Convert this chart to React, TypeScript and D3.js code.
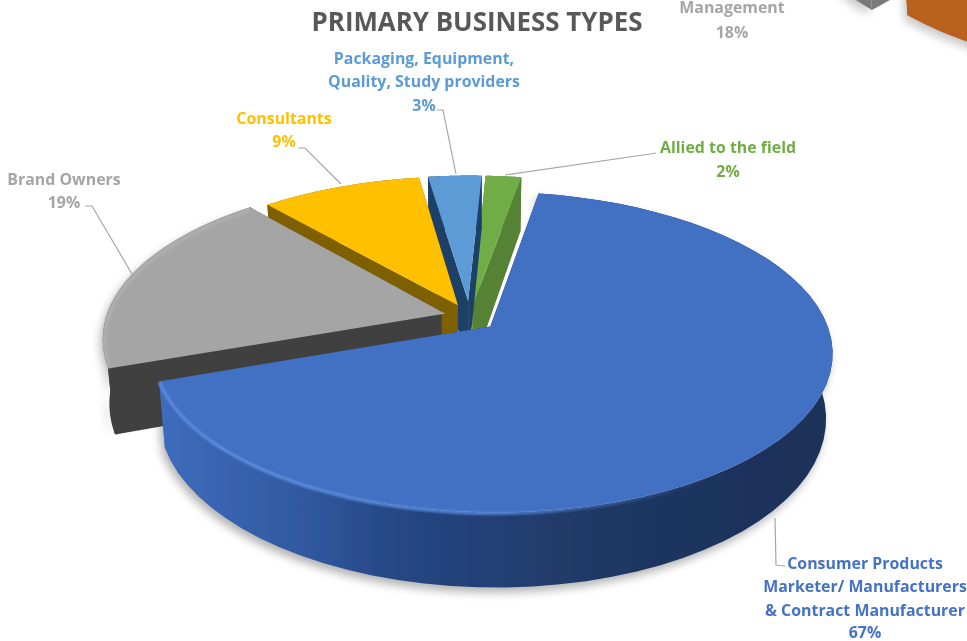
import React from "react";
import * as d3 from "d3";

const title = "PRIMARY BUSINESS TYPES";
const categories = [
  "Consumer Products Marketer/ Manufacturers & Contract Manufacturer",
  "Brand Owners",
  "Consultants",
  "Packaging, Equipment, Quality, Study providers",
  "Allied to the field",
];
const values = [67, 19, 9, 3, 2];
const paintOrder = [4, 3, 2, 1, 0];
const topColors = ["#4270c2", "#a5a5a5", "#ffc000", "#5b9bd5", "#70ad47"];
const wallColors = ["url(#blueSide)", "#404040", "#7f6000", "#1f3f66", "#548235"];
const rimColors = ["url(#blueRim)", "#aeaeae", "#ffc000", "#5b9bd5", "#70ad47"];

const otherValues = [64, 18, 18];
const otherTop = ["#ed7d31", "#a5a5a5", "#ffc000"];
const otherWalls = ["#b8611f", "#7a7a7a", "#7f6000"];

type Pt = [number, number];
type Geo = { cx: number; cy: number; rx: number; ry: number; k: number; dz: number; explode: number; start: number; taper: number; shifts: Pt[]; apexShifts: Pt[] };
const deg = Math.PI / 180;
const mainGeo: Geo = {
  cx: 470.5, cy: 319, rx: 333, ry: 154, k: 0.152, dz: 63, explode: 0.085, start: 9.7 * deg, taper: 0.018,
  shifts: [[0, 0], [-2, -2], [0, 0], [0, 0], [0, 0]],
  apexShifts: [[-2, -1], [-2, -1], [-1, -2], [-1, -5], [-1, 0]],
};
const otherGeo: Geo = {
  cx: 1137, cy: -189, rx: 333, ry: 154, k: 0.152, dz: 64, explode: 0.05, start: -8.4 * deg, taper: 0.018,
  shifts: [[0, 0], [0, -5], [0, 0]],
  apexShifts: [[0, 0], [0, 0], [0, 0]],
};

function makeSlices(vals: number[], g: Geo) {
  const arcs = d3.pie<number>().sort(null).value((d) => d).startAngle(g.start).endAngle(g.start + 2 * Math.PI)(vals);
  const line = d3.line<Pt>();
  return arcs.map((a, idx) => {
    const [sx, sy] = g.shifts[idx];
    const [ax, ay] = g.apexShifts[idx];
    const proj = (X: number, Y: number, z: number): Pt => {
      const w = 1 + g.k * Y;
      return [sx + g.cx + ((g.rx * X) / w) * (1 - g.taper * z), sy + g.cy - (g.ry * Y) / w + (g.dz * z) / w];
    };
    const mid = (a.startAngle + a.endAngle) / 2;
    const ox = g.explode * Math.sin(mid);
    const oy = g.explode * Math.cos(mid);
    const thetas = d3.range(0, 61).map((i) => a.startAngle + ((a.endAngle - a.startAngle) * i) / 60);
    const arcAt = (z: number, ts = thetas) => ts.map((t) => proj(ox + Math.sin(t), oy + Math.cos(t), z));
    const apex = (z: number): Pt => {
      const p = proj(ox, oy, z);
      return [p[0] + ax, p[1] + ay];
    };
    const top = line([apex(0), ...arcAt(0)]) + "Z";
    const side = line([...arcAt(0), ...arcAt(1).reverse()]) + "Z";
    const wallA = line([apex(0), arcAt(0)[0], arcAt(1)[0], apex(1)]) + "Z";
    const wallB = line([apex(0), arcAt(0)[60], arcAt(1)[60], apex(1)]) + "Z";
    const rimFrom = Math.max(a.startAngle, 120 * deg);
    const rimTs = d3.range(0, 41).map((i) => rimFrom + ((a.endAngle - rimFrom) * i) / 40);
    const rim = line(arcAt(0.012, rimTs)) as string;
    return { top, side, wallA, wallB, rim };
  });
}

const mainSlices = makeSlices(values, mainGeo);
const otherSlices = makeSlices(otherValues, otherGeo);

const labelFont = "'Open Sans', sans-serif";
const labels = [
  { lines: ["Consumer Products", "Marketer/ Manufacturers", "& Contract Manufacturer", "67%"], x: 865, ys: [569, 592, 616, 638], color: "#4472c4", leader: "M775,518L776,565L785,566" },
  { lines: ["Brand Owners"], x: 64, ys: [185], color: "#a5a5a5", leader: "" },
  { lines: ["19%"], x: 64, ys: [208], color: "#a5a5a5", leader: "M85,206L92,206L132,274" },
  { lines: ["Consultants"], x: 284, ys: [124], color: "#ffc000", leader: "" },
  { lines: ["9%"], x: 284, ys: [147], color: "#ffc000", leader: "M298,148L305,148L341,184" },
  { lines: ["Packaging, Equipment,", "Quality, Study providers", "3%"], x: 424, ys: [64, 87, 111], color: "#5b9bd5", leader: "M437,110L443,110L456,174" },
  { lines: ["Allied to the field", "2%"], x: 728, ys: [153, 177], color: "#70ad47", leader: "M656,153L650,154L505,175" },
  { lines: ["Management", "18%"], x: 732, ys: [13, 38], color: "#a5a5a5", leader: "" },
];

export default function App() {
  return (
    <svg width={967} height={641} style={{ position: "fixed", left: 0, top: 0, background: "#fff" }} viewBox="0 0 967 641">
      <defs>
        <linearGradient id="blueSide" gradientUnits="userSpaceOnUse" x1="160" y1="0" x2="835" y2="0">
          <stop offset="0" stopColor="#3f6cbc" />
          <stop offset="0.22" stopColor="#30589f" />
          <stop offset="0.36" stopColor="#254682" />
          <stop offset="0.65" stopColor="#1f3864" />
          <stop offset="1" stopColor="#1b3057" />
        </linearGradient>
        <linearGradient id="blueRim" gradientUnits="userSpaceOnUse" x1="160" y1="0" x2="720" y2="0">
          <stop offset="0" stopColor="#5d8fe0" />
          <stop offset="0.6" stopColor="#5587d8" />
          <stop offset="1" stopColor="#4270c2" stopOpacity="0" />
        </linearGradient>
        <filter id="shadow" x="-10%" y="-10%" width="120%" height="120%"><feGaussianBlur stdDeviation="5" /></filter>
        <filter id="soft" x="-5%" y="-5%" width="110%" height="110%"><feGaussianBlur stdDeviation="1.3" /></filter>
        <filter id="fine" x="-2%" y="-2%" width="104%" height="104%"><feGaussianBlur stdDeviation="0.45" /></filter>
      </defs>
      <g>
        {[0, 1].map((i) => (
          <path key={i} d={otherSlices[i].side} fill="#000" opacity={0.22} filter="url(#shadow)" transform="translate(-3,5)" />
        ))}
        {[2, 1, 0].map((i) => (
          <g key={i}>
            <path d={otherSlices[i].wallA} fill={otherWalls[i]} />
            <path d={otherSlices[i].wallB} fill={otherWalls[i]} />
            <path d={otherSlices[i].side} fill={otherWalls[i]} />
            <path d={otherSlices[i].top} fill={otherTop[i]} />
          </g>
        ))}
      </g>
      <path d={mainSlices[1].side} fill="#000" opacity={0.25} filter="url(#shadow)" transform="translate(-5,4)" />
      <path d={mainSlices[0].side} fill="#000" opacity={0.3} filter="url(#shadow)" transform="translate(-3,5)" />
      <g filter="url(#fine)">
        {paintOrder.map((i) => {
          const s = mainSlices[i];
          const sw = i === 1 ? 4 : 0;
          return (
            <g key={categories[i]}>
              <path d={s.wallA} fill={wallColors[i]} stroke={wallColors[i]} strokeWidth={sw} strokeLinejoin="round" />
              <path d={s.wallB} fill={wallColors[i]} stroke={wallColors[i]} strokeWidth={sw} strokeLinejoin="round" />
              <path d={s.side} fill={wallColors[i]} stroke={wallColors[i]} strokeWidth={sw} strokeLinejoin="round" />
              <path d={s.top} fill={topColors[i]} stroke={topColors[i]} strokeWidth={i === 1 ? 4 : 0} />
              {(i === 0 || i === 1) && <path d={s.rim} fill="none" stroke={rimColors[i]} strokeWidth={i === 1 ? 4 : 3} filter="url(#soft)" />}
            </g>
          );
        })}
      </g>
      <g filter="url(#fine)">
        <text x={477} y={31} textAnchor="middle" fontFamily={labelFont} fontWeight={700} fontSize={25.9} fill="#595959">{title}</text>
        {labels.map((l, i) => (
          <g key={i}>
            {l.leader && <path d={l.leader} fill="none" stroke="#a6a6a6" strokeWidth={1.2} />}
            {l.lines.map((t, j) => (
              <text key={j} x={l.x} y={l.ys[j]} textAnchor="middle" fontFamily={labelFont} fontWeight={700} fontSize={15.9} fill={l.color}>{t}</text>
            ))}
          </g>
        ))}
      </g>
    </svg>
  );
}
